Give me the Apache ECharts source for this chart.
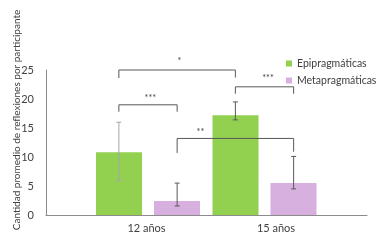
<!DOCTYPE html>
<html>
<head>
<meta charset="utf-8">
<script src="https://cdn.jsdelivr.net/npm/echarts@6/dist/echarts.min.js"></script>
<style>
    html, body { margin: 0; padding: 0; background: #fff; }
    #chart { width: 382px; height: 245px; }
</style>
</head>
<body>
<div id="chart"></div>
<script>
    const categories = ['12 años', '15 años']
    const seriesNames = ['Epipragmáticas', 'Metapragmáticas']
    const epiValues = [10.8, 17.2]
    const metaValues = [2.4, 5.5]
    // error bar ends [low, high]
    const epiErr = [[5.9, 16.0], [16.4, 19.5]]
    const metaErr = [[1.55, 5.5], [4.5, 10.1]]
    const yTicks = [0, 5, 10, 15, 20, 25]
    // significance brackets: [xLeft, xRight, yTop, yLeftEnd, yRightEnd, labelX, labelY]
    // x in category units (bar centre = category index -/+ 0.25)
    const brackets = [
        [-0.25, 0.75, 25.0, 23.6, 23.7, 0.27, 26.5],
        [-0.25, 0.25, 19.0, 17.8, 17.8, 0.02, 20.2],
        [0.75, 1.25, 22.1, 20.9, 20.9, 1.03, 23.6],
        [0.25, 1.25, 13.2, 10.7, 10.9, 0.45, 14.3]
    ]
    const bracketLabels = ['*', '***', '***', '**']

    const font = 'Lato'
    const chart = echarts.init(document.getElementById('chart'), null, { renderer: 'canvas' })

    const errData = []
    epiErr.forEach((e, i) => errData.push([i - 0.25, e[0], e[1], '#a6a6a6']))
    metaErr.forEach((e, i) => errData.push([i + 0.25, e[0], e[1], '#595959']))
    errData[1][3] = '#595959'

    const option = {
        animation: false,
        textStyle: { fontFamily: font },
        grid: [
            { left: 46, right: 15, top: 70, bottom: 30 },
            { left: 89.75, right: 59.25, top: 70, bottom: 30 }
        ],
        legend: {
            orient: 'vertical',
            left: 281,
            top: 53,
            padding: 5,
            itemWidth: 6,
            itemHeight: 6,
            itemGap: 6,
            icon: 'rect',
            textStyle: { fontSize: 10.5, color: '#404040', fontFamily: font },
            data: seriesNames
        },
        graphic: [{
            type: 'text',
            x: 17,
            y: 120,
            rotation: Math.PI / 2,
            style: {
                text: 'Cantidad promedio de reflexiones por participante',
                fontSize: 10,
                fontFamily: font,
                fill: '#404040',
                textAlign: 'center',
                textVerticalAlign: 'middle'
            }
        }],
        xAxis: [
            {
                type: 'value', gridIndex: 0, min: 0, max: 1,
                axisLine: { show: true, lineStyle: { color: '#8c8c8c' } },
                axisTick: { show: false }, axisLabel: { show: false }, splitLine: { show: false }
            },
            {
                type: 'category', gridIndex: 1, data: categories,
                axisLine: { show: false }, axisTick: { show: false },
                axisLabel: {
                    margin: 8, color: '#404040', fontSize: 11, fontFamily: font,
                    formatter: (v, i) => i === 1 ? '{b|' + v + '}' : '{a|' + v + '}',
                    rich: {
                        a: { fontSize: 11, color: '#404040', fontFamily: font, padding: [0, 3, 0, 0] },
                        b: { fontSize: 11, color: '#404040', fontFamily: font, padding: [0, 0, 0, 23] }
                    }
                }
            },
            {
                type: 'value', gridIndex: 1, min: -0.5, max: 1.5, show: false
            }
        ],
        yAxis: [
            {
                type: 'value', gridIndex: 0, min: 0, max: 25, interval: 5,
                axisLine: { show: true, lineStyle: { color: '#8c8c8c' } },
                axisTick: { show: false }, splitLine: { show: false },
                axisLabel: {
                    margin: 12, color: '#404040', fontSize: 11, fontFamily: font,
                    formatter: v => yTicks.indexOf(v) > -1 ? String(v) : ''
                }
            },
            { type: 'value', gridIndex: 1, min: 0, max: 25, show: false }
        ],
        series: [
            {
                name: seriesNames[0], type: 'bar', xAxisIndex: 1, yAxisIndex: 1,
                barWidth: 46, barGap: '26%', data: epiValues,
                itemStyle: { color: '#92d050' }
            },
            {
                name: seriesNames[1], type: 'bar', xAxisIndex: 1, yAxisIndex: 1,
                barWidth: 46, data: metaValues,
                itemStyle: { color: '#d8b0e0' }
            },
            {
                type: 'custom', xAxisIndex: 2, yAxisIndex: 1, z: 5,
                data: errData,
                renderItem: (params, api) => {
                    const x = api.value(0)
                    const lo = api.coord([x, api.value(1)])
                    const hi = api.coord([x, api.value(2)])
                    const c = errData[params.dataIndex][3]
                    const st = { stroke: c, lineWidth: 1 }
                    return {
                        type: 'group',
                        children: [
                            { type: 'line', shape: { x1: lo[0], y1: lo[1], x2: hi[0], y2: hi[1] }, style: st },
                            { type: 'line', shape: { x1: lo[0] - 2.5, y1: lo[1], x2: lo[0] + 2.5, y2: lo[1] }, style: st },
                            { type: 'line', shape: { x1: hi[0] - 2.5, y1: hi[1], x2: hi[0] + 2.5, y2: hi[1] }, style: st }
                        ]
                    }
                }
            },
            {
                type: 'custom', xAxisIndex: 2, yAxisIndex: 1, z: 6,
                data: brackets,
                renderItem: (params, api) => {
                    const b = brackets[params.dataIndex]
                    const p1 = api.coord([b[0], b[3]])
                    const p2 = api.coord([b[0], b[2]])
                    const p3 = api.coord([b[1], b[2]])
                    const p4 = api.coord([b[1], b[4]])
                    const lp = api.coord([b[5], b[6]])
                    return {
                        type: 'group',
                        children: [
                            {
                                type: 'polyline',
                                shape: { points: [p1, p2, p3, p4] },
                                style: { stroke: '#595959', lineWidth: 1, fill: null }
                            },
                            {
                                type: 'text',
                                x: lp[0], y: lp[1],
                                style: {
                                    text: bracketLabels[params.dataIndex],
                                    fontSize: 9, fontFamily: font, fill: '#404040',
                                    textAlign: 'center', textVerticalAlign: 'middle'
                                }
                            }
                        ]
                    }
                }
            }
        ]
    }
    chart.setOption(option)
</script>
</body>
</html>
